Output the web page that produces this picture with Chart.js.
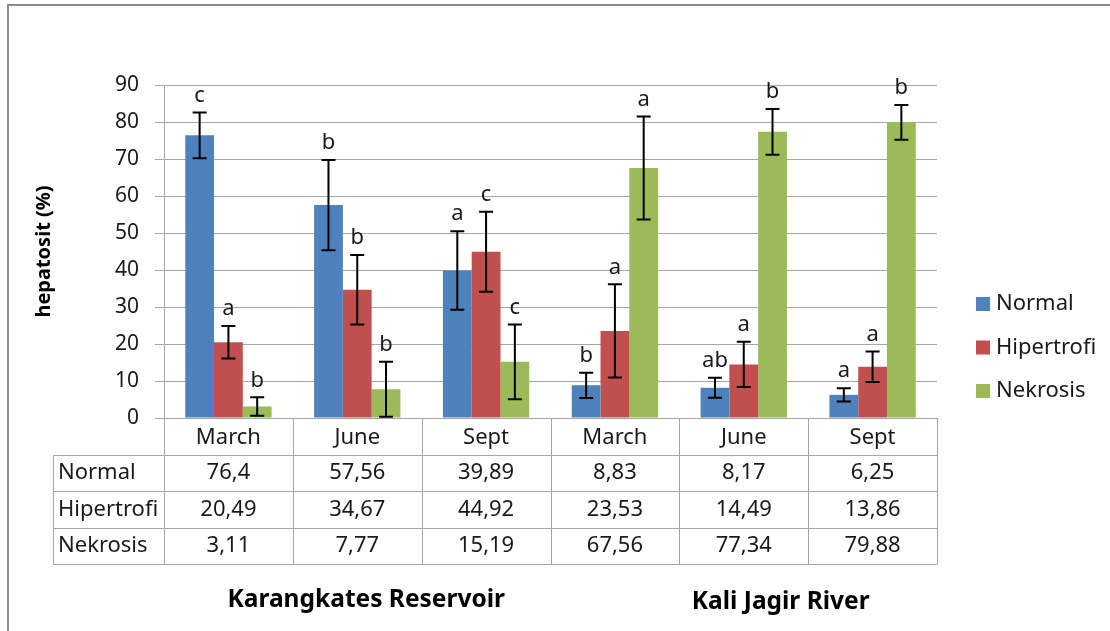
<!DOCTYPE html>
<html>
<head>
<meta charset="utf-8">
<script src="https://cdn.jsdelivr.net/npm/chart.js@4"></script>
<style>
html,body{margin:0;padding:0;background:#fff;}
canvas{display:block;}
</style>
</head>
<body>
<canvas id="c" width="1110" height="631"></canvas>
<script>
// ---- data ----
const categories = ['March', 'June', 'Sept', 'March', 'June', 'Sept'];
const seriesNames = ['Normal', 'Hipertrofi', 'Nekrosis'];
const normal = [76.4, 57.56, 39.89, 8.83, 8.17, 6.25];
const hipertrofi = [20.49, 34.67, 44.92, 23.53, 14.49, 13.86];
const nekrosis = [3.11, 7.77, 15.19, 67.56, 77.34, 79.88];
const errNormal = [6.2, 12.2, 10.6, 3.4, 2.7, 1.8];
const errHipertrofi = [4.4, 9.4, 10.8, 12.6, 6.1, 4.1];
const errNekrosis = [2.5, 7.4, 10.1, 13.9, 6.2, 4.7];
const lettersNormal = ['c', 'b', 'a', 'b', 'ab', 'a'];
const lettersHipertrofi = ['a', 'b', 'c', 'a', 'a', 'a'];
const lettersNekrosis = ['b', 'b', 'c', 'a', 'b', 'b'];
const sites = ['Karangkates Reservoir', 'Kali Jagir River'];
const yMin = 0, yMax = 90, yStep = 10;
const yTitle = 'hepatosit (%)';

const colors = ['#4F81BD', '#C0504D', '#9BBB59'];
const values = [normal, hipertrofi, nekrosis];
const errors = [errNormal, errHipertrofi, errNekrosis];
const letters = [lettersNormal, lettersHipertrofi, lettersNekrosis];

const FONT = "'Noto Sans', sans-serif";
const TXT = '#1a1a1a';
const GRID = '#a6a6a6';
Chart.defaults.font.family = FONT;

const fmt = v => String(v).replace('.', ',');

const extras = {
  id: 'extras',
  beforeDraw(chart) {
    const ctx = chart.ctx;
    ctx.save();
    ctx.fillStyle = '#fff';
    ctx.fillRect(0, 0, chart.width, chart.height);
    ctx.strokeStyle = '#8c8c8c';
    ctx.lineWidth = 2;
    ctx.beginPath();
    ctx.moveTo(8, chart.height);
    ctx.lineTo(8, 5);
    ctx.lineTo(chart.width, 5);
    ctx.stroke();
    ctx.restore();
  },
  afterDatasetsDraw(chart) {
    const ctx = chart.ctx;
    const ys = chart.scales.y;
    ctx.save();
    values.forEach((vals, di) => {
      const meta = chart.getDatasetMeta(di);
      meta.data.forEach((bar, j) => {
        const v = vals[j], e = errors[di][j];
        const top = ys.getPixelForValue(v + e);
        const bot = ys.getPixelForValue(Math.max(0, v - e));
        ctx.strokeStyle = '#000';
        ctx.lineWidth = 2;
        ctx.beginPath();
        ctx.moveTo(bar.x, top); ctx.lineTo(bar.x, bot);
        ctx.moveTo(bar.x - 7, top); ctx.lineTo(bar.x + 7, top);
        ctx.moveTo(bar.x - 7, bot); ctx.lineTo(bar.x + 7, bot);
        ctx.stroke();
        ctx.fillStyle = TXT;
        ctx.font = '22px ' + FONT;
        ctx.textAlign = 'center';
        ctx.textBaseline = 'middle';
        ctx.fillText(letters[di][j], bar.x, top - 17);
      });
    });
    ctx.restore();
  },
  afterDraw(chart) {
    const ctx = chart.ctx;
    const xs = chart.scales.x;
    const area = chart.chartArea;
    const half = (xs.getPixelForValue(1) - xs.getPixelForValue(0)) / 2;
    const tableLeft = 53;
    const rowH = 36.6;
    const top = area.bottom;
    const bottom = top + rowH * 4;
    ctx.save();
    ctx.strokeStyle = GRID;
    ctx.lineWidth = 1;
    ctx.beginPath();
    for (let i = 0; i <= categories.length; i++) {
      const x = Math.round(xs.getPixelForValue(i) - half) + 0.5;
      ctx.moveTo(x, top); ctx.lineTo(x, bottom);
    }
    for (let r = 1; r <= 4; r++) {
      const y = Math.round(top + rowH * r) + 0.5;
      ctx.moveTo(tableLeft, y); ctx.lineTo(area.right, y);
    }
    ctx.moveTo(tableLeft + 0.5, Math.round(top + rowH)); ctx.lineTo(tableLeft + 0.5, bottom);
    ctx.stroke();

    ctx.fillStyle = TXT;
    ctx.font = '22px ' + FONT;
    ctx.textBaseline = 'middle';
    seriesNames.forEach((name, r) => {
      const cy = top + rowH * (r + 1.5);
      ctx.textAlign = 'left';
      ctx.fillText(name, tableLeft + 5, cy);
      ctx.textAlign = 'center';
      values[r].forEach((v, j) => {
        ctx.fillText(fmt(v), xs.getPixelForValue(j), cy);
      });
    });

    // site labels
    ctx.font = 'bold 24.5px ' + FONT;
    ctx.textAlign = 'center';
    ctx.fillStyle = '#000';
    ctx.fillText(sites[0], xs.getPixelForValue(1) + 9, 600);
    ctx.fillText(sites[1], xs.getPixelForValue(4) + 37, 602);

    // legend
    ctx.font = '22px ' + FONT;
    ctx.textAlign = 'left';
    seriesNames.forEach((name, i) => {
      const cy = 304 + i * 43.5;
      ctx.fillStyle = colors[i];
      ctx.fillRect(976, cy - 7, 14, 14);
      ctx.fillStyle = TXT;
      ctx.fillText(name, 996, cy);
    });
    ctx.restore();
  }
};

new Chart(document.getElementById('c'), {
  type: 'bar',
  data: {
    labels: categories,
    datasets: values.map((vals, i) => ({
      label: seriesNames[i],
      data: vals,
      backgroundColor: colors[i],
      borderWidth: 0,
      categoryPercentage: 0.67,
      barPercentage: 1.0
    }))
  },
  options: {
    responsive: false,
    animation: false,
    devicePixelRatio: 1,
    layout: { padding: { left: 0, top: 85, right: 173, bottom: 0 } },
    plugins: { legend: { display: false }, tooltip: { enabled: false } },
    scales: {
      x: {
        grid: { display: false, drawTicks: false },
        border: { display: false },
        ticks: { color: TXT, font: { size: 22 }, padding: 7, maxRotation: 0 },
        afterFit(s) { s.height = 631 - 418; }
      },
      y: {
        min: yMin, max: yMax,
        ticks: { stepSize: yStep, color: TXT, font: { size: 21 }, padding: 16 },
        grid: { color: GRID, lineWidth: 1, tickLength: 9, drawTicks: true },
        border: { display: true, color: GRID, width: 1 },
        title: { display: true, text: yTitle, color: '#000', font: { size: 20, weight: 'bold' }, padding: { top: 32, bottom: 0 } },
        afterFit(s) { s.width = 164; }
      }
    }
  },
  plugins: [extras]
});
</script>
</body>
</html>
